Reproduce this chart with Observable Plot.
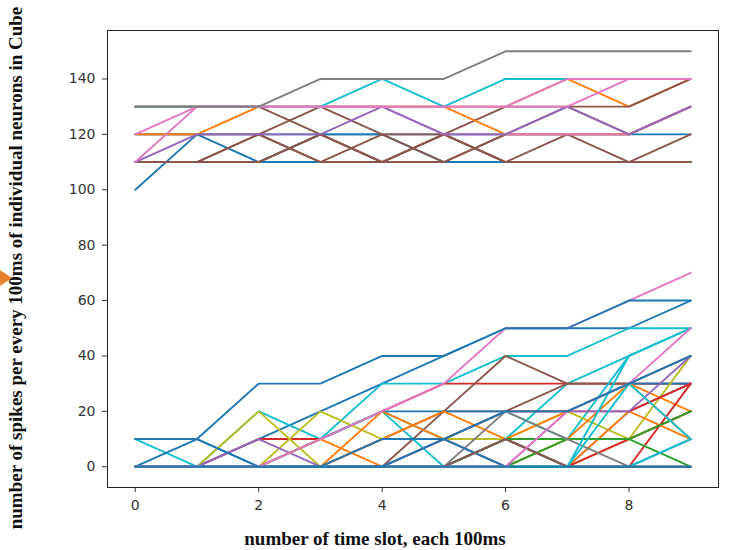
<!DOCTYPE html>
<html>
<head>
<meta charset="utf-8">
<script src="https://cdn.jsdelivr.net/npm/d3@7"></script>
<script src="https://cdn.jsdelivr.net/npm/@observablehq/plot@0.6"></script>
<style>
  html, body { margin: 0; padding: 0; background: #fff; }
  #wrap { position: relative; width: 730px; height: 550px; }
  #wrap svg { position: absolute; left: 0; top: 0; }
  #marker { position: absolute; left: 0; top: 270px; width: 0; height: 0; z-index: 2;
    border-top: 8px solid transparent; border-bottom: 8px solid transparent;
    border-left: 12px solid #e8822a; }
</style>
</head>
<body>
<div id="wrap"><div id="marker"></div></div>
<script>
// time slots (x)
const timeSlots = [0, 1, 2, 3, 4, 5, 6, 7, 8, 9];
const xTicks = [0, 2, 4, 6, 8];
const yTicks = [0, 20, 40, 60, 80, 100, 120, 140];

const xLabel = "number of time slot, each 100ms";
const yLabel = "number of spikes per every 100ms of individual neurons in Cube";

// matplotlib tab10 categories (C0..C9)
// C0 blue, C1 orange, C2 green, C3 red, C4 purple, C5 brown, C6 pink, C7 gray, C8 olive, C9 cyan
const hueNames = ["C0", "C1", "C2", "C3", "C4", "C5", "C6", "C7", "C8", "C9"];
const hueHex = ["#1f77b4", "#ff7f0e", "#2ca02c", "#d62728", "#9467bd", "#8c564b", "#e377c2", "#7f7f7f", "#bcbd22", "#17becf"];

// upper cluster of neurons (spikes per slot), in drawing order
const upperHues = ["C0", "C0", "C0", "C1",
                   "C5", "C5", "C5", "C5", "C5", "C5",
                   "C1", "C6", "C4", "C9", "C6", "C6", "C7"];
const upperValues = [
  [120, 120, 120, 120, 120, 120, 120, 120, 120, 120],
  [100, 120, 110, 110, 110, 110, 110, 110, 110, 110],
  [110, 110, 110, 120, 120, 110, 110, 110, 110, 110],
  [130, 130, 130, 130, 130, 130, 130, 140, 130, 140],
  [110, 110, 120, 130, 120, 110, 120, 120, 120, 130],
  [110, 110, 110, 120, 110, 120, 130, 130, 130, 140],
  [130, 130, 130, 120, 110, 120, 110, 120, 110, 120],
  [110, 110, 120, 110, 120, 120, 110, 110, 110, 110],
  [110, 110, 110, 120, 110, 120, 110, 110, 110, 110],
  [120, 120, 120, 110, 110, 110, 120, 130, 120, 130],
  [120, 120, 130, 130, 130, 130, 120, 120, 120, 130],
  [130, 130, 130, 130, 130, 120, 120, 120, 120, 130],
  [110, 120, 120, 120, 130, 120, 120, 130, 120, 130],
  [130, 130, 130, 130, 140, 130, 140, 140, 140, 140],
  [120, 130, 130, 130, 130, 130, 130, 130, 140, 140],
  [110, 130, 130, 130, 130, 130, 130, 140, 140, 140],
  [130, 130, 130, 140, 140, 140, 150, 150, 150, 150]
];

// lower cluster of neurons (spikes per slot), in drawing order
const lowerHues = ["C0", "C0", "C9", "C9", "C3", "C5", "C5", "C0", "C9", "C8",
                   "C8", "C4", "C1", "C1", "C1", "C3", "C3", "C3", "C2", "C2",
                   "C7", "C4", "C0", "C9", "C9", "C9", "C5", "C6", "C0", "C6", "C0", "C0"];
const lowerValues = [
  [0, 0, 0, 0, 0, 0, 0, 0, 0, 0],
  [0, 0, 10, 20, 30, 40, 50, 50, 50, 60],
  [0, 0, 0, 10, 30, 30, 40, 40, 50, 50],
  [10, 0, 20, 10, 20, 0, 10, 30, 40, 50],
  [0, 0, 10, 10, 20, 30, 30, 30, 30, 30],
  [0, 0, 0, 0, 10, 20, 40, 30, 30, 30],
  [0, 0, 0, 0, 0, 20, 20, 30, 30, 40],
  [0, 10, 0, 10, 20, 20, 20, 20, 30, 30],
  [0, 0, 0, 10, 20, 10, 20, 10, 40, 50],
  [0, 0, 0, 20, 10, 10, 10, 20, 10, 40],
  [0, 0, 20, 0, 0, 0, 0, 0, 10, 20],
  [0, 0, 10, 0, 0, 0, 10, 0, 20, 30],
  [0, 0, 0, 0, 20, 10, 0, 10, 30, 20],
  [0, 0, 0, 10, 0, 0, 10, 20, 30, 10],
  [0, 0, 0, 0, 10, 20, 10, 0, 20, 10],
  [0, 0, 0, 0, 0, 10, 20, 20, 20, 30],
  [0, 0, 0, 0, 0, 0, 0, 0, 0, 30],
  [0, 0, 0, 0, 0, 0, 10, 0, 10, 20],
  [0, 0, 0, 0, 0, 0, 0, 10, 10, 20],
  [0, 0, 0, 0, 0, 0, 10, 10, 10, 0],
  [0, 0, 0, 0, 0, 0, 20, 10, 0, 0],
  [0, 0, 0, 0, 0, 10, 0, 20, 20, 40],
  [10, 10, 0, 0, 10, 10, 0, 0, 0, 10],
  [0, 0, 0, 0, 0, 0, 0, 0, 0, 10],
  [0, 0, 0, 0, 0, 0, 0, 0, 40, 50],
  [0, 0, 0, 0, 0, 0, 10, 0, 30, 10],
  [0, 0, 0, 0, 0, 0, 10, 0, 0, 0],
  [0, 0, 0, 0, 0, 0, 0, 20, 30, 50],
  [0, 0, 0, 0, 0, 10, 20, 20, 30, 40],
  [0, 0, 0, 10, 20, 30, 50, 50, 60, 70],
  [10, 10, 30, 30, 40, 40, 50, 50, 60, 60],
  [0, 0, 0, 0, 0, 0, 0, 0, 0, 0]
];

const rows = [];
function addGroup(prefix, hues, values) {
  values.forEach((vals, i) => {
    vals.forEach((v, j) => rows.push({series: prefix + i, hue: hues[i], t: timeSlots[j], v}));
  });
}
addGroup("u", upperHues, upperValues);
addGroup("l", lowerHues, lowerValues);

const chart = Plot.plot({
  width: 730,
  height: 550,
  marginLeft: 107,
  marginRight: 12,
  marginTop: 30,
  marginBottom: 63,
  style: {fontFamily: "DejaVu Sans", fontSize: "14px", color: "#333", background: "#fff"},
  x: {domain: [-0.45, 9.45], ticks: xTicks, tickSize: 5, tickPadding: 8, label: null},
  y: {domain: [-7.5, 157.5], ticks: yTicks, tickSize: 5, tickPadding: 7, label: null},
  color: {type: "ordinal", domain: hueNames, range: hueHex},
  marks: [
    Plot.line(rows, {x: "t", y: "v", z: "series", stroke: "hue", strokeWidth: 1.9, strokeLinejoin: "miter"}),
    Plot.frame({stroke: "#222", strokeWidth: 1}),
    Plot.text([xLabel], {frameAnchor: "bottom", textAnchor: "middle", lineAnchor: "middle", dx: -38, dy: 51,
      fontFamily: "Liberation Serif", fontWeight: "bold", fontSize: 19, fill: "#111"}),
    Plot.text([yLabel], {frameAnchor: "left", textAnchor: "middle", lineAnchor: "middle", rotate: -90, dx: -92, dy: 9,
      fontFamily: "Liberation Serif", fontWeight: "bold", fontSize: 19, fill: "#111"})
  ]
});
document.getElementById("wrap").appendChild(chart);
</script>
</body>
</html>
